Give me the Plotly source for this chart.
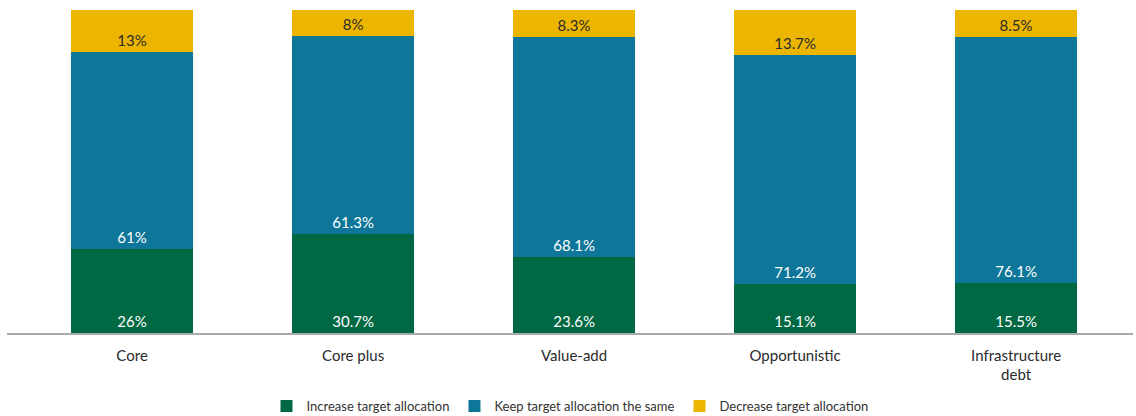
import plotly.graph_objects as go

categories = ["Core", "Core plus", "Value-add", "Opportunistic", "Infrastructure<br>debt"]
increase = [26, 30.7, 23.6, 15.1, 15.5]
keep_same = [61, 61.3, 68.1, 71.2, 76.1]
decrease = [13, 8, 8.3, 13.7, 8.5]

series = [
    ("Increase target allocation", increase, "#006843", "white"),
    ("Keep target allocation the same", keep_same, "#0d7699", "white"),
    ("Decrease target allocation", decrease, "#ecb500", "#2b2b2b"),
]

FONT = "Lato, 'Open Sans', sans-serif"

fig = go.Figure()
for name, vals, color, tcolor in series:
    fig.add_trace(go.Bar(
        name=name,
        x=categories,
        y=vals,
        marker=dict(color=color, line=dict(width=0)),
        text=[f"{v:g}%" for v in vals],
        textposition="inside",
        insidetextanchor="start",
        textangle=0,
        constraintext="none",
        textfont=dict(color=tcolor, size=15, family=FONT),
        hoverinfo="skip",
    ))

fig.update_layout(
    barmode="stack",
    bargap=0.45,
    width=1136,
    height=416,
    margin=dict(l=7, r=3, t=10, b=83, autoexpand=False),
    plot_bgcolor="white",
    paper_bgcolor="white",
    font=dict(family=FONT, color="#333333", size=14),
    xaxis=dict(
        range=[-0.566, 4.529],
        showgrid=False,
        showline=True,
        linecolor="#aaaaaa",
        linewidth=1.5,
        ticks="",
        ticklabelstandoff=8,
        tickfont=dict(size=15, color="#2b2b2b"),
    ),
    yaxis=dict(range=[0, 100.1], visible=False, showgrid=False),
    legend=dict(
        orientation="h",
        x=0.5,
        xanchor="center",
        yref="container",
        y=0.024,
        yanchor="middle",
        font=dict(size=13, color="#333333"),
        itemsizing="constant",
        traceorder="normal",
    ),
    showlegend=True,
)

fig.write_html("out.html")
